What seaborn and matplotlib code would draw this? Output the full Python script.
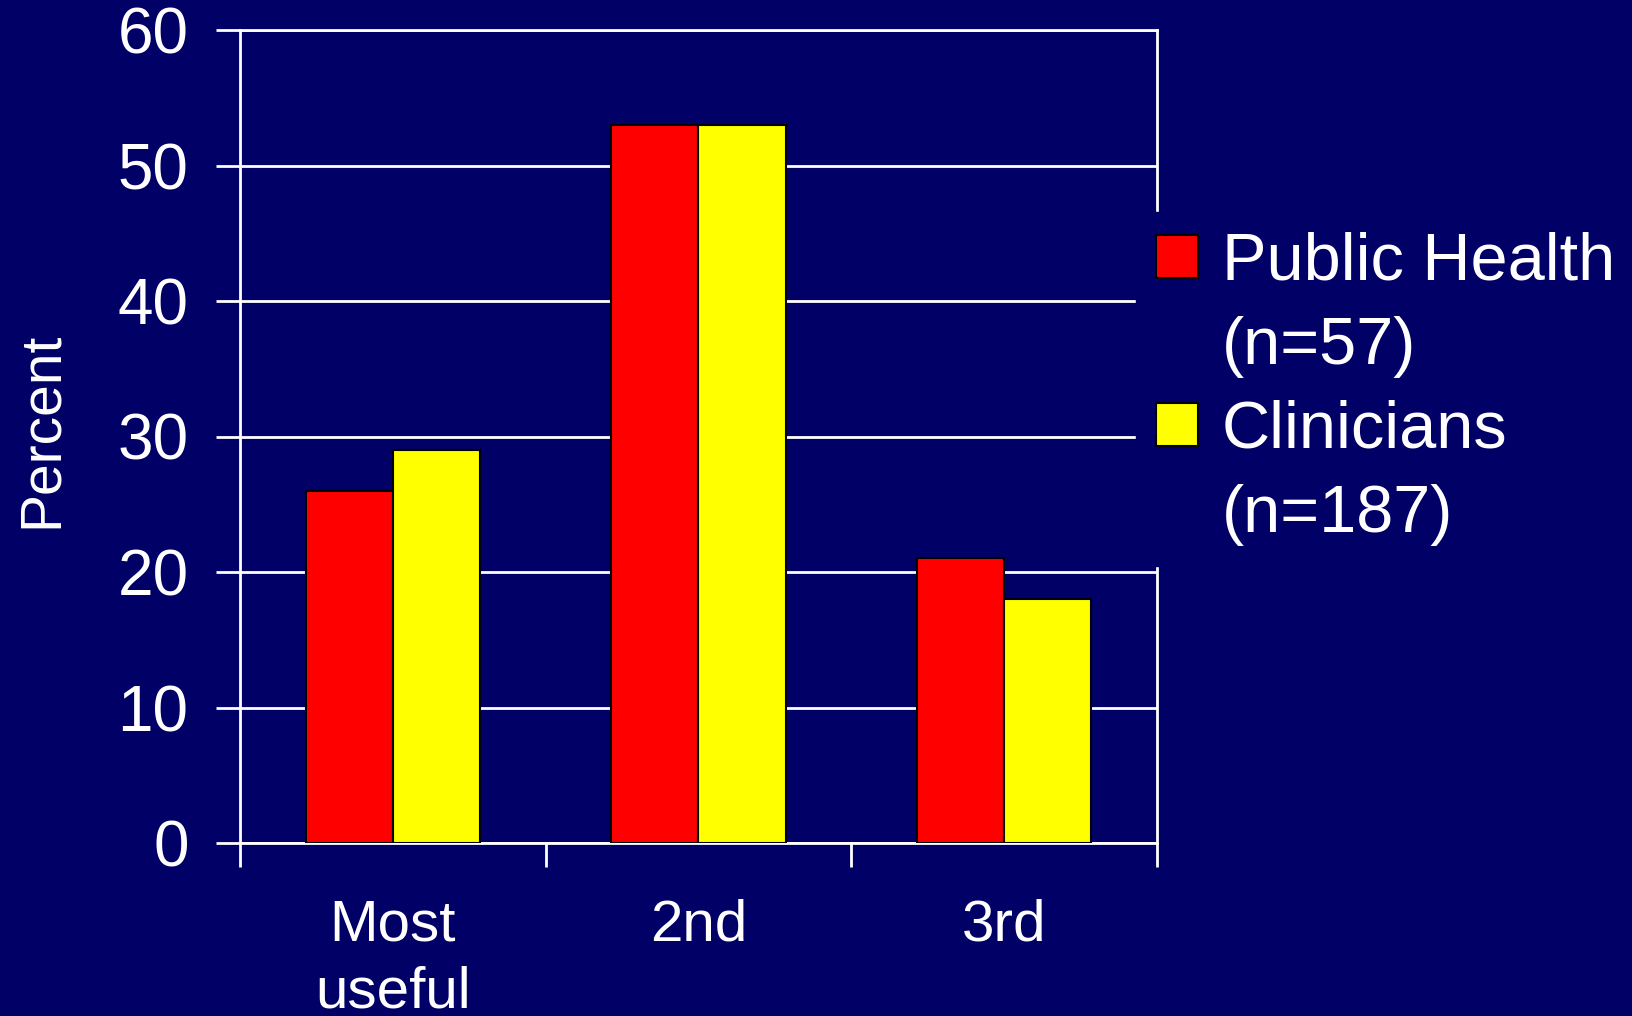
import pandas as pd
import seaborn as sns
import matplotlib.pyplot as plt
from matplotlib.patches import Patch

# values
ranks = ['Most\nuseful', '2nd', '3rd']
groups = ['Public Health', 'Clinicians']
group_n = ['(n=57)', '(n=187)']
public_health = [26, 53, 21]
clinicians = [29, 53, 18]
yticks = [0, 10, 20, 30, 40, 50, 60]

navy = '#000066'
colors = ['#ff0000', '#ffff00']

data = pd.DataFrame({
    'rank': ranks * 2,
    'group': [groups[0]] * 3 + [groups[1]] * 3,
    'percent': public_health + clinicians,
})

sns.set_style('white')
plt.rcParams['font.family'] = ['Liberation Sans', 'DejaVu Sans']

fig = plt.figure(figsize=(16.33, 10.16), dpi=100, facecolor=navy)
ax = fig.add_axes([240 / 1633, 1 - 843 / 1016, 917 / 1633, 813 / 1016])
ax.set_facecolor(navy)

sns.barplot(data=data, x='rank', y='percent', hue='group', order=ranks,
            hue_order=groups, palette=colors, width=0.57, saturation=1,
            edgecolor='black', linewidth=1.5, ax=ax, zorder=3)

ax.set_ylim(0, 60)
ax.set_xlim(-0.5, 2.5)
ax.set_yticks(yticks)
ax.yaxis.grid(True, color='white', linewidth=2)
ax.set_axisbelow(True)

# category boundaries get the tick marks, names sit in between
ax.set_xticks([-0.5, 0.5, 1.5, 2.5])
ax.set_xticklabels([])
ax.set_xticks([0, 1, 2], minor=True)
ax.set_xticklabels(ranks, minor=True, fontsize=42, color='white',
                   linespacing=1.3)
ax.tick_params(axis='x', which='major', direction='out', length=17,
               width=2, color='white', bottom=True)
ax.tick_params(axis='x', which='minor', length=0, pad=40)
ax.tick_params(axis='y', direction='out', length=17, width=2, color='white',
               left=True, labelsize=46, labelcolor='white', pad=20)

for side in ['left', 'right', 'bottom', 'top']:
    ax.spines[side].set_color('white')
    ax.spines[side].set_linewidth(2)

ax.set_xlabel('')
ax.set_ylabel('Percent', fontsize=41, color='white')
ax.yaxis.set_label_coords(-0.187, 0.508)

# legend: colour box next to the first line of each label
ax.get_legend().remove()
blank = Patch(facecolor='none', edgecolor='none')
handles = [Patch(facecolor=colors[0], edgecolor='black', linewidth=1.5), blank,
           Patch(facecolor=colors[1], edgecolor='black', linewidth=1.5), blank]
labels = [groups[0], group_n[0], groups[1], group_n[1]]
leg = ax.legend(handles, labels, loc='upper left',
                bbox_to_anchor=(1136 / 1633, 1 - 212 / 1016),
                bbox_transform=fig.transFigure, borderaxespad=0,
                fontsize=48, frameon=True, facecolor=navy, edgecolor=navy,
                framealpha=1, fancybox=False, borderpad=0.3,
                handlelength=0.63, handleheight=0.6, handletextpad=0.36,
                labelspacing=0.33)
for t in leg.get_texts():
    t.set_color('white')

fig.savefig('out.png', dpi=100, facecolor=navy)
